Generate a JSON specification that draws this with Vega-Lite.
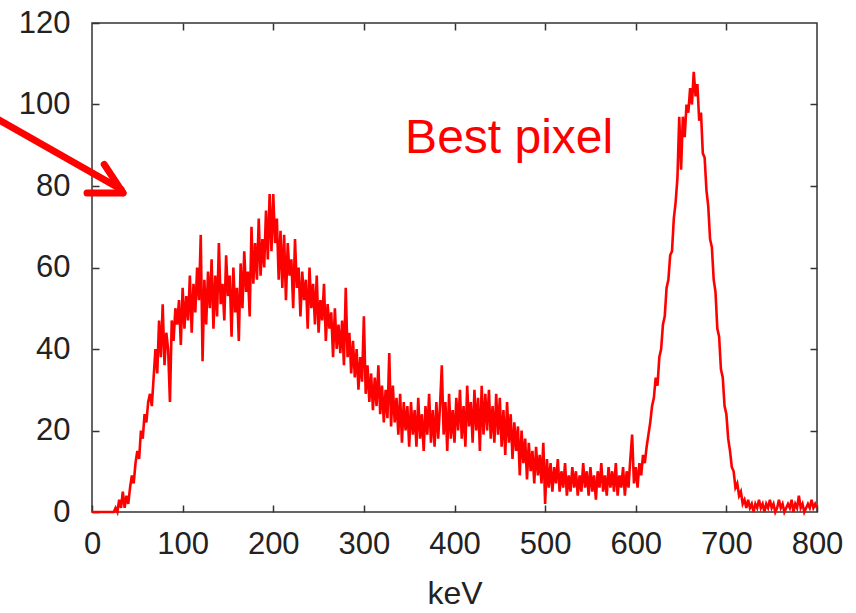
{
  "$schema": "https://vega.github.io/schema/vega-lite/v6.json",
  "autosize": "none",
  "width": 725,
  "height": 489,
  "padding": {"left": 92, "top": 23, "right": 39, "bottom": 101},
  "background": "white",
  "config": {
    "view": {"stroke": "#333333", "strokeWidth": 1.5},
    "axis": {
      "labelFont": "Liberation Sans",
      "labelFontSize": 31,
      "labelColor": "#222222",
      "tickColor": "#333333",
      "tickWidth": 1.5,
      "tickSize": -7,
      "domain": false,
      "grid": false,
      "labelFlush": false,
      "titleFont": "Liberation Sans",
      "titleFontSize": 32,
      "titleFontWeight": "normal",
      "titleColor": "#222222"
    }
  },
  "datasets": {
    "spec": [
      {"k":0,"c":0},{"k":2,"c":0},{"k":4,"c":0},{"k":6,"c":0},{"k":8,"c":0},{"k":10,"c":0},{"k":12,"c":0},{"k":14,"c":0},{"k":16,"c":0},{"k":18,"c":0},{"k":20,"c":0},{"k":22,"c":0},{"k":24,"c":0},
      {"k":26,"c":1},{"k":28,"c":0},{"k":30,"c":3},{"k":32,"c":1},{"k":34,"c":5},{"k":36,"c":1},{"k":38,"c":4},{"k":40,"c":2},{"k":42,"c":6},{"k":44,"c":9},{"k":46,"c":7},{"k":48,"c":12},
      {"k":50,"c":15},{"k":52,"c":13},{"k":54,"c":20},{"k":56,"c":18},{"k":58,"c":24},{"k":60,"c":22},{"k":62,"c":27},{"k":64,"c":29},{"k":66,"c":26},{"k":68,"c":33},{"k":70,"c":40},{"k":72,"c":34},{"k":74,"c":47},
      {"k":76,"c":38},{"k":78,"c":51},{"k":80,"c":36},{"k":82,"c":44},{"k":84,"c":40},{"k":86,"c":27},{"k":88,"c":47},{"k":90,"c":42},{"k":92,"c":50},{"k":94,"c":46},{"k":96,"c":52},{"k":98,"c":41},
      {"k":100,"c":55},{"k":102,"c":45},{"k":104,"c":53},{"k":106,"c":47},{"k":108,"c":58},{"k":110,"c":44},{"k":112,"c":56},{"k":114,"c":49},{"k":116,"c":60},{"k":118,"c":52},{"k":120,"c":68},{"k":122,"c":37},
      {"k":124,"c":57},{"k":126,"c":46},{"k":128,"c":59},{"k":130,"c":50},{"k":132,"c":62},{"k":134,"c":45},{"k":136,"c":58},{"k":138,"c":48},{"k":140,"c":66},{"k":142,"c":51},{"k":144,"c":56},{"k":146,"c":47},
      {"k":148,"c":63},{"k":150,"c":53},{"k":152,"c":58},{"k":154,"c":43},{"k":156,"c":60},{"k":158,"c":49},{"k":160,"c":55},{"k":162,"c":42},{"k":164,"c":61},{"k":166,"c":50},{"k":168,"c":64},{"k":170,"c":54},
      {"k":172,"c":59},{"k":174,"c":48},{"k":176,"c":70},{"k":178,"c":56},{"k":180,"c":66},{"k":182,"c":57},{"k":184,"c":72},{"k":186,"c":58},{"k":188,"c":67},{"k":190,"c":60},{"k":192,"c":74},{"k":194,"c":62},
      {"k":196,"c":78},{"k":198,"c":64},{"k":200,"c":78},{"k":202,"c":66},{"k":204,"c":72},{"k":206,"c":57},{"k":208,"c":69},{"k":210,"c":55},{"k":212,"c":68},{"k":214,"c":52},{"k":216,"c":66},{"k":218,"c":58},
      {"k":220,"c":62},{"k":222,"c":50},{"k":224,"c":67},{"k":226,"c":55},{"k":228,"c":60},{"k":230,"c":48},{"k":232,"c":59},{"k":234,"c":52},{"k":236,"c":57},{"k":238,"c":45},{"k":240,"c":60},{"k":242,"c":50},
      {"k":244,"c":56},{"k":246,"c":46},{"k":248,"c":58},{"k":250,"c":44},{"k":252,"c":52},{"k":254,"c":47},{"k":256,"c":56},{"k":258,"c":42},{"k":260,"c":51},{"k":262,"c":45},{"k":264,"c":49},{"k":266,"c":38},
      {"k":268,"c":50},{"k":270,"c":40},{"k":272,"c":46},{"k":274,"c":39},{"k":276,"c":47},{"k":278,"c":36},{"k":280,"c":55},{"k":282,"c":38},{"k":284,"c":44},{"k":286,"c":34},{"k":288,"c":42},{"k":290,"c":33},
      {"k":292,"c":40},{"k":294,"c":30},{"k":296,"c":38},{"k":298,"c":32},{"k":300,"c":48},{"k":302,"c":29},{"k":304,"c":36},{"k":306,"c":27},{"k":308,"c":34},{"k":310,"c":25},{"k":312,"c":33},{"k":314,"c":26},
      {"k":316,"c":36},{"k":318,"c":24},{"k":320,"c":31},{"k":322,"c":22},{"k":324,"c":30},{"k":326,"c":23},{"k":328,"c":39},{"k":330,"c":21},{"k":332,"c":31},{"k":334,"c":22},{"k":336,"c":28},{"k":338,"c":19},
      {"k":340,"c":29},{"k":342,"c":17},{"k":344,"c":27},{"k":346,"c":20},{"k":348,"c":26},{"k":350,"c":16},{"k":352,"c":27},{"k":354,"c":19},{"k":356,"c":25},{"k":358,"c":16},{"k":360,"c":28},{"k":362,"c":18},
      {"k":364,"c":24},{"k":366,"c":15},{"k":368,"c":26},{"k":370,"c":19},{"k":372,"c":29},{"k":374,"c":17},{"k":376,"c":25},{"k":378,"c":16},{"k":380,"c":27},{"k":382,"c":18},{"k":384,"c":26},{"k":386,"c":36},
      {"k":388,"c":19},{"k":390,"c":27},{"k":392,"c":15},{"k":394,"c":29},{"k":396,"c":18},{"k":398,"c":25},{"k":400,"c":17},{"k":402,"c":28},{"k":404,"c":20},{"k":406,"c":30},{"k":408,"c":18},{"k":410,"c":26},
      {"k":412,"c":16},{"k":414,"c":31},{"k":416,"c":21},{"k":418,"c":27},{"k":420,"c":17},{"k":422,"c":30},{"k":424,"c":20},{"k":426,"c":28},{"k":428,"c":15},{"k":430,"c":31},{"k":432,"c":19},{"k":434,"c":29},
      {"k":436,"c":20},{"k":438,"c":30},{"k":440,"c":18},{"k":442,"c":26},{"k":444,"c":17},{"k":446,"c":29},{"k":448,"c":19},{"k":450,"c":28},{"k":452,"c":16},{"k":454,"c":25},{"k":456,"c":14},{"k":458,"c":27},
      {"k":460,"c":17},{"k":462,"c":24},{"k":464,"c":13},{"k":466,"c":22},{"k":468,"c":15},{"k":470,"c":21},{"k":472,"c":9},{"k":474,"c":20},{"k":476,"c":12},{"k":478,"c":18},{"k":480,"c":8},{"k":482,"c":17},
      {"k":484,"c":10},{"k":486,"c":15},{"k":488,"c":7},{"k":490,"c":16},{"k":492,"c":9},{"k":494,"c":14},{"k":496,"c":7},{"k":498,"c":17},{"k":500,"c":2},{"k":502,"c":13},{"k":504,"c":6},{"k":506,"c":12},
      {"k":508,"c":5},{"k":510,"c":11},{"k":512,"c":7},{"k":514,"c":13},{"k":516,"c":5},{"k":518,"c":10},{"k":520,"c":6},{"k":522,"c":12},{"k":524,"c":4},{"k":526,"c":9},{"k":528,"c":5},{"k":530,"c":11},
      {"k":532,"c":6},{"k":534,"c":10},{"k":536,"c":4},{"k":538,"c":9},{"k":540,"c":5},{"k":542,"c":12},{"k":544,"c":6},{"k":546,"c":10},{"k":548,"c":4},{"k":550,"c":11},{"k":552,"c":5},{"k":554,"c":9},
      {"k":556,"c":3},{"k":558,"c":10},{"k":560,"c":6},{"k":562,"c":12},{"k":564,"c":5},{"k":566,"c":9},{"k":568,"c":4},{"k":570,"c":11},{"k":572,"c":6},{"k":574,"c":10},{"k":576,"c":5},{"k":578,"c":12},
      {"k":580,"c":4},{"k":582,"c":9},{"k":584,"c":6},{"k":586,"c":11},{"k":588,"c":4},{"k":590,"c":10},{"k":592,"c":6},{"k":594,"c":13},{"k":596,"c":19},{"k":598,"c":7},{"k":600,"c":11},{"k":602,"c":6},
      {"k":604,"c":12},{"k":606,"c":9},{"k":608,"c":14},{"k":610,"c":12},{"k":612,"c":16},{"k":614,"c":19},{"k":616,"c":22},{"k":618,"c":26},{"k":620,"c":28},{"k":622,"c":33},{"k":624,"c":31},{"k":626,"c":38},
      {"k":628,"c":40},{"k":630,"c":46},{"k":632,"c":48},{"k":634,"c":55},{"k":636,"c":57},{"k":638,"c":63},{"k":640,"c":64},{"k":642,"c":72},{"k":644,"c":76},{"k":646,"c":82},{"k":648,"c":97},{"k":650,"c":84},
      {"k":652,"c":97},{"k":654,"c":92},{"k":656,"c":100},{"k":658,"c":98},{"k":660,"c":104},{"k":662,"c":100},{"k":664,"c":108},{"k":666,"c":102},{"k":668,"c":105},{"k":670,"c":96},{"k":672,"c":98},{"k":674,"c":88},
      {"k":676,"c":87},{"k":678,"c":79},{"k":680,"c":75},{"k":682,"c":67},{"k":684,"c":65},{"k":686,"c":57},{"k":688,"c":54},{"k":690,"c":45},{"k":692,"c":43},{"k":694,"c":35},{"k":696,"c":33},{"k":698,"c":26},
      {"k":700,"c":24},{"k":702,"c":18},{"k":704,"c":15},{"k":706,"c":11},{"k":708,"c":10},{"k":710,"c":6},{"k":712,"c":7},{"k":714,"c":4},{"k":716,"c":5},{"k":718,"c":2},{"k":720,"c":3},{"k":722,"c":1},
      {"k":724,"c":3},{"k":726,"c":1},{"k":728,"c":2},{"k":730,"c":0},{"k":732,"c":2},{"k":734,"c":1},{"k":736,"c":3},{"k":738,"c":1},{"k":740,"c":2},{"k":742,"c":0},{"k":744,"c":2},{"k":746,"c":1},
      {"k":748,"c":3},{"k":750,"c":1},{"k":752,"c":2},{"k":754,"c":0},{"k":756,"c":1},{"k":758,"c":3},{"k":760,"c":1},{"k":762,"c":2},{"k":764,"c":0},{"k":766,"c":1},{"k":768,"c":2},{"k":770,"c":1},
      {"k":772,"c":3},{"k":774,"c":0},{"k":776,"c":2},{"k":778,"c":1},{"k":780,"c":4},{"k":782,"c":1},{"k":784,"c":2},{"k":786,"c":0},{"k":788,"c":1},{"k":790,"c":2},{"k":792,"c":1},{"k":794,"c":3},
      {"k":796,"c":1},{"k":798,"c":2},{"k":800,"c":1}
    ],
    "arrow": [
      {"xa": -105, "ya": 96.5, "xb": 32, "yb": 79.2},
      {"xa": 13.5, "ya": 85.3, "xb": 34.2, "yb": 78.3},
      {"xa": -5.5, "ya": 78.3, "xb": 34.2, "yb": 78.3}
    ],
    "label": [
      {"kx": 345.5, "cy": 88.1, "text": "Best pixel"}
    ]
  },
  "layer": [
    {
      "data": {"name": "spec"},
      "mark": {"type": "line", "color": "#ff0000", "strokeWidth": 2.6, "strokeJoin": "miter"},
      "encoding": {
        "x": {"field": "k", "type": "quantitative",
              "scale": {"domain": [0, 800], "nice": false, "zero": false},
              "axis": {"orient": "bottom", "title": "keV", "values": [0,100,200,300,400,500,600,700,800], "labelPadding": 24, "titlePadding": 19, "labelOverlap": false}},
        "y": {"field": "c", "type": "quantitative",
              "scale": {"domain": [0, 120], "nice": false},
              "axis": {"orient": "left", "title": null, "values": [0,20,40,60,80,100,120], "labelPadding": 29, "labelOverlap": false}}
      }
    },
    {
      "data": {"name": "arrow"},
      "mark": {"type": "rule", "color": "#ff0000", "strokeWidth": 7, "strokeCap": "round"},
      "encoding": {
        "x": {"field": "xa", "type": "quantitative",
              "scale": {"domain": [0, 800], "nice": false, "zero": false},
              "axis": {"orient": "top", "title": null, "labels": false, "values": [100,200,300,400,500,600,700]}},
        "y": {"field": "ya", "type": "quantitative",
              "scale": {"domain": [0, 120], "nice": false},
              "axis": {"orient": "right", "title": null, "labels": false, "values": [20,40,60,80,100]}},
        "x2": {"field": "xb"},
        "y2": {"field": "yb"}
      }
    },
    {
      "data": {"name": "label"},
      "mark": {"type": "text", "color": "#ff0000", "font": "Liberation Sans", "fontSize": 48, "align": "left", "baseline": "alphabetic"},
      "encoding": {
        "x": {"field": "kx", "type": "quantitative", "scale": {"domain": [0, 800], "nice": false, "zero": false}, "axis": null},
        "y": {"field": "cy", "type": "quantitative", "scale": {"domain": [0, 120], "nice": false}, "axis": null},
        "text": {"field": "text"}
      }
    }
  ],
  "resolve": {"axis": {"x": "independent", "y": "independent"}}
}
